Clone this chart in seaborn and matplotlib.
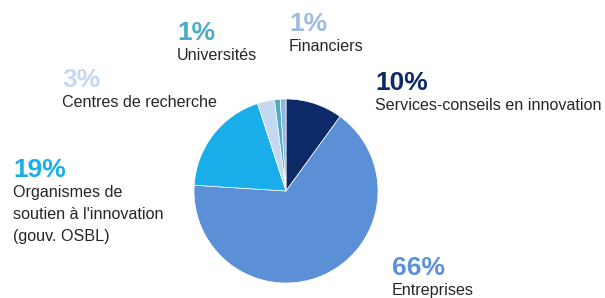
import matplotlib
matplotlib.use('Agg')
import matplotlib.pyplot as plt
import seaborn as sns

# données
categories = ['Services-conseils en innovation', 'Entreprises',
              "Organismes de\nsoutien à l'innovation\n(gouv. OSBL)",
              'Centres de recherche', 'Universités', 'Financiers']
values = [10, 66, 19, 3, 1, 1]
pct_labels = ['10%', '66%', '19%', '3%', '1%', '1%']
colors = ['#0c2a68', '#5b8fd6', '#19aeea', '#c6d8ef', '#49adc6', '#93b3df']
pct_colors = ['#0c2a68', '#5b8fd6', '#19aeea', '#c6d8ef', '#49adc6', '#9bbbe3']

sns.set_theme(style='white')
plt.rcParams['font.family'] = ['Liberation Sans', 'DejaVu Sans']

W, H = 605, 298
fig = plt.figure(figsize=(W / 100, H / 100), dpi=100)

# camembert : centre (286, 191), rayon 92 px
cx, cy, r = 286, 191, 92
ax = fig.add_axes([(cx - r) / W, 1 - (cy + r) / H, 2 * r / W, 2 * r / H])
ax.pie(values, colors=colors, startangle=90, counterclock=False,
       wedgeprops={'linewidth': 0.5, 'edgecolor': 'white'})
ax.set_xlim(-1, 1)
ax.set_ylim(-1, 1)
ax.set_aspect('equal')
ax.axis('off')

# positions des étiquettes (px) : x gauche, ligne de base du %
label_pos = [(375, 90), (392, 275), (13, 177), (62, 87), (177, 40), (289, 31)]

def fx(x):
    return x / W

def fy(y):
    return 1 - y / H

for cat, pct, pc, (x, y) in zip(categories, pct_labels, pct_colors, label_pos):
    fig.text(fx(x), fy(y), pct, color=pc, fontsize=19, fontweight='bold',
             ha='left', va='baseline')
    fig.text(fx(x), fy(y + 8), cat, color='#262626', fontsize=11.6,
             ha='left', va='top', linespacing=1.6)

fig.savefig('out.png', dpi=100, facecolor='white')
